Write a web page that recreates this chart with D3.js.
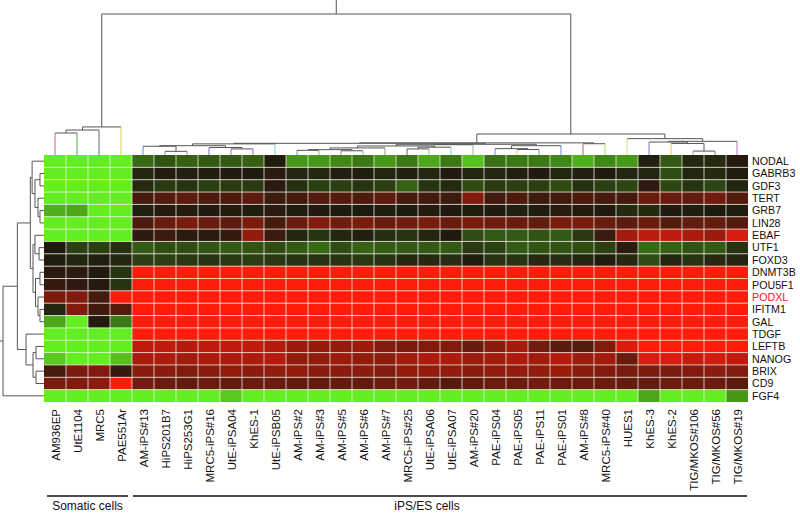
<!DOCTYPE html>
<html>
<head>
<meta charset="utf-8">
<script src="https://cdn.jsdelivr.net/npm/d3@7"></script>
<style>
  body { margin: 0; background: #fff; }
  text { font-family: "Liberation Sans", Arial, Helvetica, sans-serif; fill: #111; }
</style>
</head>
<body>
<svg id="chart" width="800" height="513"></svg>
<script>
// cell lines (columns)
const somaticCells = ['AM936EP', 'UtE1104', 'MRC5', 'PAE551Ar']
const ipsCells = ['AM-iPS#13', 'HiPS201B7', 'HiPS253G1', 'MRC5-iPS#16', 'UtE-iPSA04', 'KhES-1',
  'UtE-iPSB05', 'AM-iPS#2', 'AM-iPS#3', 'AM-iPS#5', 'AM-iPS#6', 'AM-iPS#7', 'MRC5-iPS#25',
  'UtE-iPSA06', 'UtE-iPSA07', 'AM-iPS#20', 'PAE-iPS04', 'PAE-iPS05', 'PAE-iPS11', 'PAE-iPS01',
  'AM-iPS#8', 'MRC5-iPS#40', 'HUES1', 'KhES-3', 'KhES-2', 'TIG/MKOS#106', 'TIG/MKOS#56', 'TIG/MKOS#19']
const cellLines = somaticCells.concat(ipsCells)

// genes (rows)
const genes = ['NODAL', 'GABRB3', 'GDF3', 'TERT', 'GRB7', 'LIN28', 'EBAF', 'UTF1', 'FOXD3', 'DNMT3B',
  'POU5F1', 'PODXL', 'IFITM1', 'GAL', 'TDGF', 'LEFTB', 'NANOG', 'BRIX', 'CD9', 'FGF4']
const highlightGene = 'PODXL'

// relative expression, 4 somatic + 28 iPS/ES per gene
const nodal = [-3, -3, -3, -3, -1.4, -1.1, -1.3, -1.2, -1.2, -1.3, -0.1, -2, -2, -1.8, -1.6, -2, -1.6, -2.2, -1.6, -2.5, -1.5, -1.6, -1.6, -1.8, -2.3, -1.8, -2, -0.2, -1.2, -0.4, -0.4, 0.2]
const gabrb3 = [-3, -3, -3, -3, -0.3, 0.2, -0.2, -0.1, 0.1, 0, 0.3, -0.3, -0.3, -0.2, -0.1, -0.3, -0.2, -0.3, 0.1, -0.3, -0.3, -0.2, 0.1, -0.3, -0.2, 0.1, -0.3, -0.3, -1.0, -0.3, -0.4, -0.1]
const gdf3 = [-3, -3, -3, -3, -0.4, -0.7, -0.6, -0.8, -0.7, -0.7, 0.3, -0.5, -0.8, -0.8, -0.6, -0.8, -1.3, -0.6, -0.4, -1.0, -0.7, -0.8, -0.8, -1.0, -0.5, -0.8, -0.9, 0.4, -0.9, -0.6, -0.9, -0.3]
const tert = [-3, -3, -3, -3, 0.8, 1.0, 1.1, 0.9, 0.9, 1.1, 0.6, 0.8, 1.0, 1.0, 0.9, 1.1, 0.8, 0.7, 0.6, 1.6, 0.7, 0.9, 0.6, 0.7, 0.9, 0.8, 0.8, 1.3, 1.3, 1.2, 1.4, 1.0]
const grb7 = [-2.3, -2.2, -3, -3, -0.2, 0.2, 0.2, 0.1, 0.2, -0.1, 0.3, -0.1, 0.1, 0, 0, -0.1, 0, 0.2, 0.1, -0.1, 0.1, -0.2, -0.1, 0.3, 0.2, 0.1, -0.4, -0.4, 0.1, -0.1, 0, -0.1]
const lin28 = [-3, -3, -3, -3, 0.9, 1.3, 1.5, 1.3, 1.1, 1.5, 0.8, 1.3, 1.6, 1.4, 1.5, 1.3, 1.4, 1.5, 1.3, 1.5, 1.4, 1.3, 1.2, 1.5, 1.5, 1.3, 1.1, 1.3, 1.0, 1.2, 1.2, 1.0]
const ebaf = [-3, -3, -3, -3, 0.4, 0.6, 0.3, 0.3, 0.5, 1.8, 0.6, -0.3, -0.6, -0.3, -0.2, -0.5, -0.6, -0.3, 0.1, -1.0, -1.2, -1.2, -1.1, -1.2, -0.7, 0.6, 2.0, 2.3, 2.3, 2.1, 1.9, 2.6]
const utf1 = [0, -0.8, -0.8, -0.5, -1.2, -1.0, -1.0, -1.1, -1.2, -1.1, -1.0, -1.2, -1.4, -1.0, -1.3, -1.2, -1.2, -1.2, -1.2, -0.7, -0.8, -1.2, -1.1, -1.1, -1.0, -0.8, 0.4, -1.4, -1.3, -1.1, -1.2, -0.6]
const foxd3 = [-0.1, -0.3, -0.2, -0.3, -0.8, -0.8, -0.7, -0.6, -0.7, -0.8, -0.7, -0.6, -0.6, -0.6, -0.7, -0.6, -0.4, -0.4, -0.5, -0.1, -0.6, -0.6, -0.4, -0.5, -0.3, -0.1, -0.4, -1.0, -0.3, -0.6, -0.4, -0.3]
const dnmt3b = [0.3, 0.3, 0.1, -0.6, 3, 3, 3, 3, 3, 3, 3, 3, 3, 3, 3, 3, 3, 3, 3, 3, 3, 3, 3, 3, 3, 3, 3, 3, 3, 3, 3, 3]
const pou5f1 = [0.5, 0.4, 0.2, -0.6, 3, 3, 3, 3, 3, 3, 3, 3, 3, 3, 3, 3, 3, 3, 3, 3, 3, 3, 3, 3, 3, 3, 3, 3, 3, 3, 3, 3]
const podxl = [1.5, 1.6, 0.8, 3, 3, 3, 3, 3, 3, 3, 3, 3, 3, 3, 3, 3, 3, 3, 3, 3, 3, 3, 3, 3, 3, 3, 3, 3, 3, 3, 3, 3]
const ifitm1 = [-0.3, 1.6, 0.7, 1.0, 3, 3, 3, 3, 3, 3, 3, 3, 3, 3, 3, 3, 3, 3, 3, 3, 3, 3, 3, 3, 3, 3, 3, 3, 3, 3, 3, 3]
const gal = [-2.2, -3, 0.2, -1.6, 3, 3, 3, 3, 3, 3, 3, 3, 3, 3, 3, 3, 3, 3, 3, 3, 3, 3, 3, 3, 3, 3, 3, 3, 3, 3, 3, 3]
const tdgf = [-3, -3, -3, -3, 3, 3, 3, 3, 3, 3, 3, 3, 3, 3, 3, 3, 3, 3, 3, 3, 3, 3, 3, 3, 3, 3, 3, 3, 3, 3, 3, 3]
const leftb = [-3, -3, -3, -3, 2.3, 2.3, 2.2, 2.3, 2.3, 2.3, 2.2, 1.9, 1.8, 1.8, 1.9, 1.6, 1.5, 1.6, 1.6, 1.3, 1.7, 2.0, 1.4, 1.1, 1.0, 1.6, 2.6, 3, 3, 3, 3, 3]
const nanog = [-2.6, -3, -3, -2.5, 2.1, 2.1, 2.0, 2.1, 2.1, 2.1, 2.2, 1.8, 1.8, 1.9, 1.8, 1.7, 2.0, 2.1, 2.1, 1.9, 2.0, 2.1, 2.0, 2.2, 1.9, 2.0, 1.3, 2.6, 2.6, 2.4, 2.5, 2.3]
const brix = [0.8, 1.5, 1.6, 0.5, 1.7, 1.7, 1.6, 1.7, 1.8, 1.7, 1.8, 1.8, 1.7, 1.7, 1.7, 1.6, 1.8, 1.8, 1.8, 1.7, 1.8, 1.8, 1.8, 1.9, 1.7, 1.6, 1.5, 1.5, 1.5, 1.6, 1.7, 1.6]
const cd9 = [1.5, 1.6, 1.7, 3, 1.4, 1.3, 1.2, 1.3, 1.2, 1.3, 1.3, 1.2, 1.2, 1.2, 1.2, 1.3, 1.4, 1.2, 1.0, 1.2, 1.3, 1.3, 1.4, 1.3, 1.3, 1.3, 1.2, 1.2, 1.3, 1.3, 1.3, 1.1]
const fgf4 = [-3, -3, -3, -3, -3, -3, -3, -3, -2.6, -3, -3, -3, -3, -3, -3, -3, -3, -3, -3, -3, -3, -3, -3, -3, -3, -3, -3, -2.2, -3, -3, -3, -2.0]
const expression = [nodal, gabrb3, gdf3, tert, grb7, lin28, ebaf, utf1, foxd3, dnmt3b,
  pou5f1, podxl, ifitm1, gal, tdgf, leftb, nanog, brix, cd9, fgf4]

// dendrograms: [height, left, right], leaves are column / row indices
const colTree = [100,
  [19.9, [17.7, [15.6, 0, 1], 2], 3],
  [14.9,
    [8.6,
      [8.3,
        [7.9, [6.6, [6.2, 4, [2.6, 5, 6]], [5.3, 7, [4.3, 8, 9]]], 10],
        [7.6,
          [7.3, [6.4, [5.0, [3.8, [3.3, 11, 12], [3.0, 13, 14]], 15], [5.5, [4.3, 16, 17], 18]], 19],
          [6.6, [4.5, 20, [3.9, 21, 22]], 23]]],
      [8.0, 24, 25]],
    [11.6, 26, [9.7, [9.2, 27, [8.2, 28, [2.8, 29, 30]]], 31]]]]
const rowTree = [100,
  [65,
    [33.4,
      [29, 0, [22, [9.8, 1, 2], [14.6, 3, [9.8, 4, 5]]]],
      [26.8, [22, 6, [12, 7, 8]], [20.7, [9.8, 9, 10], [14.6, 11, [9.8, 12, 13]]]]],
    [43.9, 14, [26.8, [19.5, 15, 16], [19.5, 17, 18]]]],
  19]
const leafColors = ['#d0607a', '#5a9e4a', '#666', '#e2cf55', '#6a86c8', '#888', '#999', '#6f70c8',
  '#9a70c4', '#9a70c4', '#78d0e0', '#6f86c8', '#aaa', '#9a70c4', '#aaa', '#999', '#666', '#aaa',
  '#78d0e0', '#aaa', '#6f86c8', '#e2cf55', '#999', '#6f86c8', '#c0606a', '#a6d870', '#d6e070',
  '#7a78d0', '#e2cf55', '#aaa', '#777', '#c070c8']

const svg = d3.select('#chart')
const heat = { left: 44, right: 748, top: 155, bottom: 402 }

const x = d3.scaleBand().domain(cellLines).range([heat.left, heat.right])
const y = d3.scaleBand().domain(genes).range([heat.top, heat.bottom])
// green - black - red, mid values stay dark
const color = d3.scaleDivergingPow()
  .domain([-3, 0, 3])
  .exponent(1.3)
  .clamp(true)
  .interpolator(d3.piecewise(d3.interpolateRgb, ['#62ee20', '#1f1a0f', '#ff1c0c']))

// heatmap cells
const cells = []
genes.forEach((g, r) => cellLines.forEach((c, k) => cells.push({ gene: g, cell: c, v: expression[r][k] })))
svg.append('g')
  .selectAll('rect')
  .data(cells)
  .join('rect')
  .attr('x', d => x(d.cell))
  .attr('y', d => y(d.gene))
  .attr('width', x.bandwidth())
  .attr('height', y.bandwidth())
  .attr('fill', d => color(d.v))

// grid lines
const grid = svg.append('g').attr('stroke', '#f2f0e6').attr('stroke-opacity', 0.75).attr('stroke-width', 1)
cellLines.slice(1).forEach(c => {
  grid.append('line').attr('x1', x(c)).attr('x2', x(c)).attr('y1', heat.top).attr('y2', heat.bottom)
})
genes.slice(1).forEach(g => {
  grid.append('line').attr('x1', heat.left).attr('x2', heat.right).attr('y1', y(g)).attr('y2', y(g))
})

// build a dendrogram with leaf positions from a band scale
function layoutTree(tree, leafPos) {
  const root = d3.hierarchy(tree, d => Array.isArray(d) ? d.slice(1) : null)
  root.eachAfter(n => {
    if (n.children) {
      n.pos = d3.mean(n.children, c => c.pos)
      n.h = n.data[0]
    } else {
      n.pos = leafPos(n.data)
      n.h = 0
    }
  })
  return root
}

// top dendrogram (columns)
const colH = d3.scaleLinear().domain([0, 100]).range([heat.top, 14])
const colRoot = layoutTree(colTree, i => x(cellLines[i]) + x.bandwidth() / 2)
const topG = svg.append('g').attr('fill', 'none').attr('stroke-width', 1)
colRoot.descendants().filter(n => n.children).forEach(n => {
  const ends = d3.extent(n.children, c => c.pos)
  topG.append('path')
    .attr('d', `M${ends[0]},${colH(n.h)}H${ends[1]}`)
    .attr('stroke', '#555')
  n.children.forEach(c => {
    topG.append('path')
      .attr('d', `M${c.pos},${colH(c.h)}V${colH(n.h)}`)
      .attr('stroke', c.children ? '#555' : leafColors[c.data])
  })
})
topG.append('path').attr('d', `M${colRoot.pos},${colH(colRoot.h)}V0`).attr('stroke', '#555')

// left dendrogram (rows)
const rowH = d3.scaleLinear().domain([0, 100]).range([heat.left, 3])
const rowRoot = layoutTree(rowTree, i => y(genes[i]) + y.bandwidth() / 2)
const leftG = svg.append('g').attr('fill', 'none').attr('stroke', '#555').attr('stroke-width', 1)
rowRoot.descendants().filter(n => n.children).forEach(n => {
  const ends = d3.extent(n.children, c => c.pos)
  leftG.append('path').attr('d', `M${rowH(n.h)},${ends[0]}V${ends[1]}`)
  n.children.forEach(c => {
    leftG.append('path').attr('d', `M${rowH(c.h)},${c.pos}H${rowH(n.h)}`)
  })
})
leftG.append('path').attr('d', `M${rowH(rowRoot.h)},${rowRoot.pos}H0`)

// gene labels
svg.append('g')
  .selectAll('text')
  .data(genes)
  .join('text')
  .attr('x', heat.right + 4)
  .attr('y', d => y(d) + y.bandwidth() / 2)
  .attr('dy', '0.36em')
  .style('font-size', '10.7px')
  .style('fill', d => d === highlightGene ? '#e8202a' : '#111')
  .text(d => d)

// cell line labels
svg.append('g')
  .selectAll('text')
  .data(cellLines)
  .join('text')
  .attr('transform', d => `translate(${x(d) + x.bandwidth() / 2 + 4.5},${heat.bottom + 7}) rotate(-90)`)
  .attr('text-anchor', 'end')
  .style('font-size', '11.5px')
  .text(d => d)

// group brackets
const groups = [
  { name: 'Somatic cells', from: somaticCells[0], to: somaticCells[somaticCells.length - 1], pad: [3, 4], labelX: null },
  { name: 'iPS/ES cells', from: ipsCells[0], to: ipsCells[ipsCells.length - 1], pad: [1, 1], labelX: 427 }
]
groups.forEach(gr => {
  const x1 = x(gr.from) + gr.pad[0]
  const x2 = x(gr.to) + x.bandwidth() - gr.pad[1]
  svg.append('line')
    .attr('x1', x1).attr('x2', x2)
    .attr('y1', 496).attr('y2', 496)
    .attr('stroke', '#111').attr('stroke-width', 1.5)
  svg.append('text')
    .attr('x', gr.labelX || (x1 + x2) / 2)
    .attr('y', 510)
    .attr('text-anchor', 'middle')
    .style('font-size', '12px')
    .text(gr.name)
})
</script>
</body>
</html>
